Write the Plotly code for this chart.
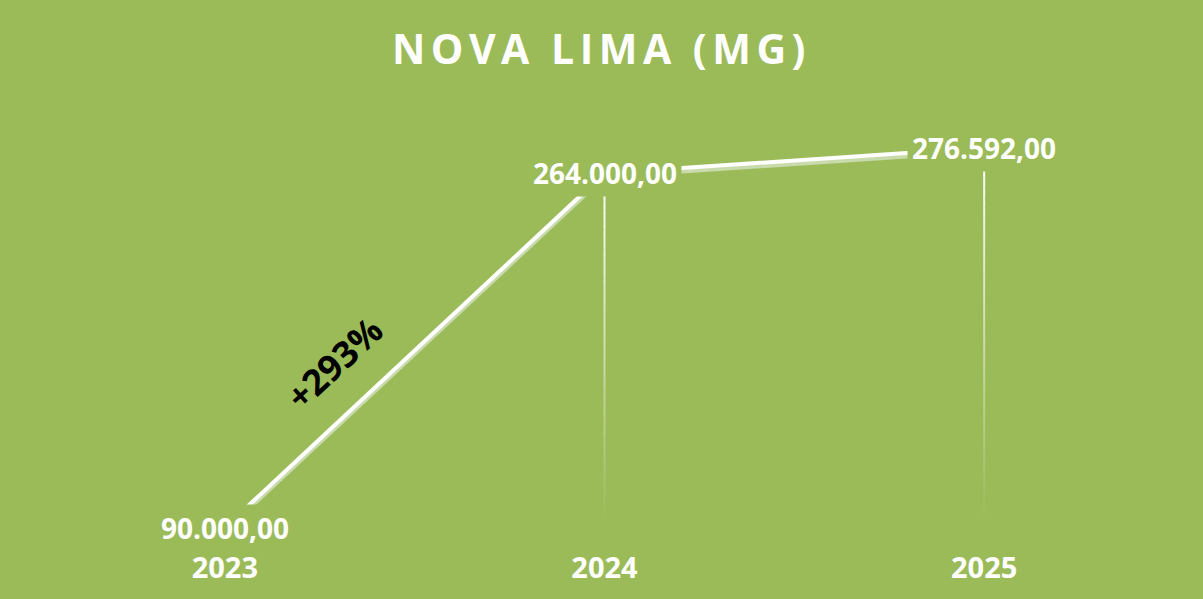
import plotly.graph_objects as go

# ---- data ----
years = ["2023", "2024", "2025"]
values = [90000, 264000, 276592]
growth_text = "+293%"
title_text = "NOVA LIMA (MG)"

# ---- style ----
BG = "#9BBB59"
Y_MIN, Y_MAX = 80000, 300000
M_L, M_R, M_T, M_B = 35, 29, 100, 51
W, H = 1203, 599
plot_h = H - M_T - M_B
units_per_px = (Y_MAX - Y_MIN) / plot_h


def br_fmt(v):
    s = f"{v:,.2f}"
    return s.replace(",", "X").replace(".", ",").replace("X", ".")


fig = go.Figure()

# drop lines (gradient white -> transparent) built from the data
N_SEG = 40
shapes = []
for i, v in enumerate(values):
    for k in range(N_SEG):
        y0 = v - (v - Y_MIN) * k / N_SEG
        y1 = v - (v - Y_MIN) * (k + 1) / N_SEG
        t = k / N_SEG
        a = max(0.0, 1.0 - t / 0.92)
        shapes.append(dict(type="line", xref="x", yref="y", x0=i, x1=i, y0=y0, y1=y1,
                           line=dict(color=f"rgba(255,255,255,{a:.3f})", width=2),
                           layer="below"))

# shadow of the line
shadow_vals = [v - 3.5 * units_per_px for v in values]
fig.add_trace(go.Scatter(x=years, y=shadow_vals, mode="lines",
                         line=dict(color="#C9DAAD", width=4), hoverinfo="skip",
                         showlegend=False))
# main line
fig.add_trace(go.Scatter(x=years, y=values, mode="lines",
                         line=dict(color="white", width=4), showlegend=False))

annotations = []
for i, v in enumerate(values):
    annotations.append(dict(x=i, y=v, xref="x", yref="y", text=f"<b>{br_fmt(v)}</b>",
                            showarrow=False, xanchor="center", yanchor="middle",
                            font=dict(family="Open Sans", size=28, color="white"),
                            bgcolor=BG, borderpad=4))

# growth annotation along the first segment
frac = 0.29
gx = frac
gy = values[0] + (values[1] - values[0]) * frac
annotations.append(dict(x=gx, y=gy, xref="x", yref="y", text=f"<b>{growth_text}</b>",
                        showarrow=False, textangle=-43, yshift=62,
                        font=dict(family="Open Sans", size=36, color="black")))

fig.update_layout(
    width=W, height=H,
    paper_bgcolor=BG, plot_bgcolor=BG,
    margin=dict(l=M_L, r=M_R, t=M_T, b=M_B),
    title=dict(text=f"<b><span style='letter-spacing:5.5px'>{title_text}</span></b>",
               x=0.5, xanchor="center", y=1 - 50 / H, yanchor="middle",
               font=dict(family="Open Sans", size=41, color="white")),
    xaxis=dict(type="category", range=[-0.5, 2.5], showgrid=False, zeroline=False,
               showline=False, ticks="",
               tickfont=dict(family="Open Sans", size=29, color="white", weight="bold")),
    yaxis=dict(range=[Y_MIN, Y_MAX], showgrid=False, zeroline=False, showline=False,
               showticklabels=False),
    shapes=shapes,
    annotations=annotations,
)

fig.write_html("out.html", config={"displayModeBar": False},
               post_script="document.body.style.margin='0';document.body.style.padding='0';")
